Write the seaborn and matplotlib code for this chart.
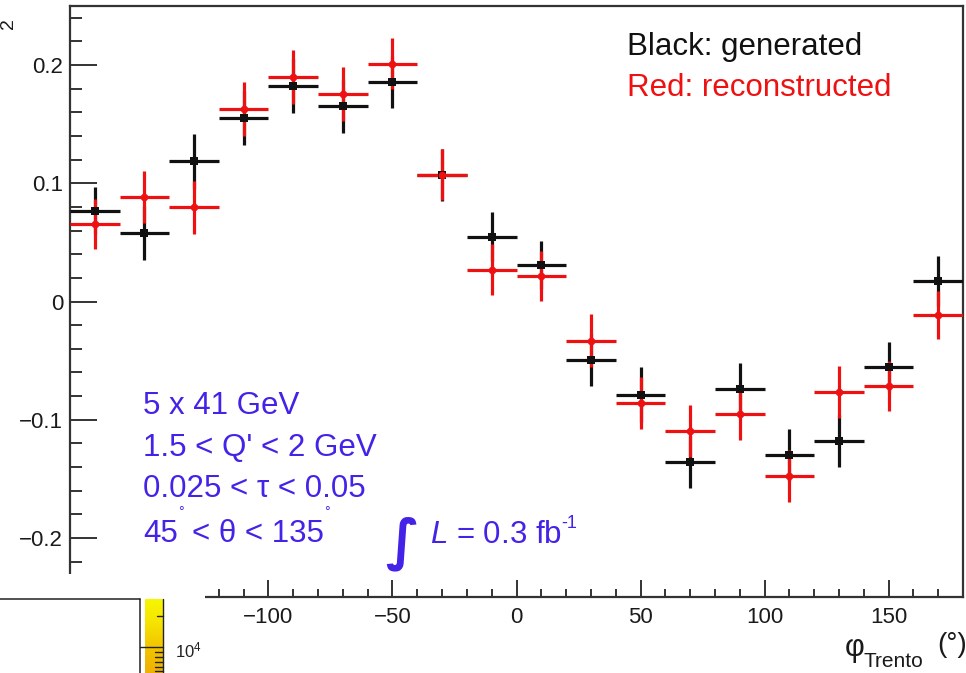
import numpy as np
import pandas as pd
import matplotlib
matplotlib.use("Agg")
import matplotlib.pyplot as plt
import seaborn as sns
from matplotlib.ticker import FixedLocator, MultipleLocator, FixedFormatter
from matplotlib.lines import Line2D
from matplotlib.patches import Rectangle
from matplotlib.colors import LinearSegmentedColormap

# ---------------- data ----------------
phi_centers = [-170, -150, -130, -110, -90, -70, -50, -30, -10,
               10, 30, 50, 70, 90, 110, 130, 150, 170]
bin_half_width = 10
gen_values = [0.0768, 0.058, 0.1185, 0.155, 0.1824, 0.165, 0.1858, 0.107, 0.0548,
              0.0309, -0.0494, -0.0788, -0.1357, -0.074, -0.1298, -0.118, -0.0554, 0.0171]
gen_errors = [0.020, 0.0227, 0.023, 0.0227, 0.023, 0.0226, 0.0222, 0.0217, 0.0206,
              0.0205, 0.0223, 0.023, 0.022, 0.022, 0.022, 0.022, 0.021, 0.021]
rec_values = [0.0655, 0.088, 0.0796, 0.1627, 0.190, 0.1754, 0.2013, 0.1072, 0.0269,
              0.0216, -0.0331, -0.0858, -0.1095, -0.095, -0.1475, -0.0765, -0.0714, -0.0114]
rec_errors = [0.021, 0.022, 0.0226, 0.023, 0.023, 0.0226, 0.0214, 0.0217, 0.0214,
              0.0214, 0.0225, 0.022, 0.022, 0.022, 0.022, 0.022, 0.021, 0.0203]

y_tick_values = [-0.2, -0.1, 0.0, 0.1, 0.2]
y_tick_labels = ["\u22120.2", "\u22120.1", "0", "0.1", "0.2"]
x_tick_values = [-150, -100, -50, 0, 50, 100, 150]
x_tick_labels = ["\u2212150", "\u2212100", "\u221250", "0", "50", "100", "150"]

legend_lines = ["Black: generated", "Red: reconstructed"]
info_lines = ["5 x 41 GeV", "1.5 < Q' < 2 GeV", "0.025 < \u03c4 < 0.05"]

# ---------------- style ----------------
sns.set_theme(style="white")
plt.rcParams["font.family"] = ["Liberation Sans", "DejaVu Sans"]
plt.rcParams["mathtext.fontset"] = "custom"
plt.rcParams["mathtext.rm"] = "Liberation Sans"
plt.rcParams["mathtext.it"] = "Liberation Sans:italic"
plt.rcParams["mathtext.bf"] = "Liberation Sans:bold"

W, H = 966, 673
fig = plt.figure(figsize=(W / 100, H / 100), dpi=100)
fig.patch.set_facecolor("white")


def fx(px):
    return px / W


def fy(py):
    return 1 - py / H


ax = fig.add_axes([fx(70), fy(597), fx(963) - fx(70), fy(6) - fy(597)])

BLACK = "#111111"
RED = "#ee1111"
BLUE = "#4422e8"
AXC = "#333333"

df = pd.DataFrame({
    "phi": phi_centers * 2,
    "value": gen_values + rec_values,
    "err": gen_errors + rec_errors,
    "sample": ["generated"] * len(phi_centers) + ["reconstructed"] * len(phi_centers),
})

for name, color, marker, size in [("generated", BLACK, "s", 36), ("reconstructed", RED, "o", 30)]:
    sub = df[df["sample"] == name]
    ax.errorbar(sub["phi"], sub["value"], xerr=bin_half_width, yerr=sub["err"],
                fmt="none", ecolor=color, elinewidth=2.3, capsize=0, zorder=3)
    sns.scatterplot(data=sub, x="phi", y="value", color=color, marker=marker,
                    s=size, edgecolor=color, linewidth=0, ax=ax, zorder=4, legend=False)

ax.set_xlim(-180, 180)
ax.set_ylim(-0.25, 0.25)
ax.set_xlabel("")
ax.set_ylabel("")

ax.yaxis.set_major_locator(FixedLocator(y_tick_values))
ax.yaxis.set_major_formatter(FixedFormatter(y_tick_labels))
ax.yaxis.set_minor_locator(MultipleLocator(0.02))
ax.xaxis.set_major_locator(FixedLocator(x_tick_values))
ax.xaxis.set_major_formatter(FixedFormatter(x_tick_labels))
ax.xaxis.set_minor_locator(MultipleLocator(10))

ax.tick_params(axis="y", which="major", direction="in", length=19.5, width=1.4,
               color=AXC, labelsize=16, pad=5, labelcolor="#1a1a1a", left=True, right=False)
ax.tick_params(axis="y", which="minor", direction="in", length=8.6, width=1.4,
               color=AXC, left=True, right=False)
ax.tick_params(axis="x", which="major", direction="in", length=12.2, width=1.4,
               color=AXC, labelsize=16, pad=7, labelcolor="#1a1a1a", bottom=True, top=False)
ax.tick_params(axis="x", which="minor", direction="in", length=5.8, width=1.4,
               color=AXC, bottom=True, top=False)
for s in ax.spines.values():
    s.set_visible(True)
    s.set_color(AXC)
    s.set_linewidth(1.6)

# end of the y-axis title visible at the left edge
fig.text(fx(0.5), fy(24), "2", fontsize=14, color="#1a1a1a", rotation=90,
         ha="left", va="center")

# legend-like text
fig.text(fx(627), fy(55), legend_lines[0], fontsize=22.5, color=BLACK, va="baseline")
fig.text(fx(627), fy(96), legend_lines[1], fontsize=22.5, color=RED, va="baseline")

# info text
for txt, base in zip(info_lines, [414, 456, 497]):
    fig.text(fx(143), fy(base), txt, fontsize=22.5, color=BLUE, va="baseline")
fig.text(fx(143), fy(542), "45", fontsize=22.5, color=BLUE, va="baseline")
fig.text(fx(178), fy(516), "\u00b0", fontsize=10, color=BLUE, va="baseline")
fig.text(fx(192), fy(542), "< \u03b8 < 135", fontsize=22.5, color=BLUE, va="baseline")
fig.text(fx(324), fy(516), "\u00b0", fontsize=10, color=BLUE, va="baseline")

# luminosity
fig.text(fx(385), fy(558), "\u222b", fontsize=40, color=BLUE, va="baseline",
         family=["DejaVu Sans"], fontweight="bold")
fig.text(fx(430), fy(543), r"$\mathit{L}$ = 0.3 fb", fontsize=22.5, color=BLUE, va="baseline")
fig.text(fx(561), fy(528), "-1", fontsize=13, color=BLUE, va="baseline")

# x-axis title
fig.text(fx(845), fy(656), "\u03c6", fontsize=22, color="#1a1a1a", va="baseline")
fig.text(fx(864), fy(667), "Trento", fontsize=15, color="#1a1a1a", va="baseline")
fig.text(fx(937), fy(652), "(\u00b0)", fontsize=20, color="#1a1a1a", va="baseline")

# ---------------- overlapping pad in the lower-left corner ----------------
fig.add_artist(Rectangle((0, 0), fx(205), fy(574), transform=fig.transFigure,
                         facecolor="white", edgecolor="none", zorder=10))
fig.add_artist(Line2D([0, fx(140)], [fy(599), fy(599)], transform=fig.transFigure,
                      color="#222222", lw=1.1, zorder=11))
fig.add_artist(Line2D([fx(140), fx(140)], [fy(599), 0], transform=fig.transFigure,
                      color="#222222", lw=1.1, zorder=11))
cmap = LinearSegmentedColormap.from_list("yl", ["#f7f700", "#f6e300", "#f2c400", "#efb000"])
cax = fig.add_axes([fx(145), 0, fx(163) - fx(145), fy(599)], zorder=12)
cax.imshow(np.linspace(0, 1, 100).reshape(-1, 1), aspect="auto", cmap=cmap)
cax.axis("off")
fig.add_artist(Line2D([fx(157), fx(163)], [fy(616), fy(616)], transform=fig.transFigure,
                      color="#222222", lw=1.0, zorder=13))
fig.add_artist(Line2D([fx(140), fx(163)], [fy(647), fy(647)], transform=fig.transFigure,
                      color="#222222", lw=1.0, zorder=13))
for yy in [652, 657, 662, 667, 671]:
    fig.add_artist(Line2D([fx(155), fx(163)], [fy(yy), fy(yy)], transform=fig.transFigure,
                          color="#222222", lw=1.0, zorder=13))
fig.add_artist(Line2D([fx(163), fx(163)], [fy(599), 0], transform=fig.transFigure,
                      color="#222222", lw=1.0, zorder=13))
fig.text(fx(175), fy(657), r"10$^{4}$", fontsize=12, color="#222222", va="baseline", zorder=14)

fig.savefig("out.png", dpi=100)
